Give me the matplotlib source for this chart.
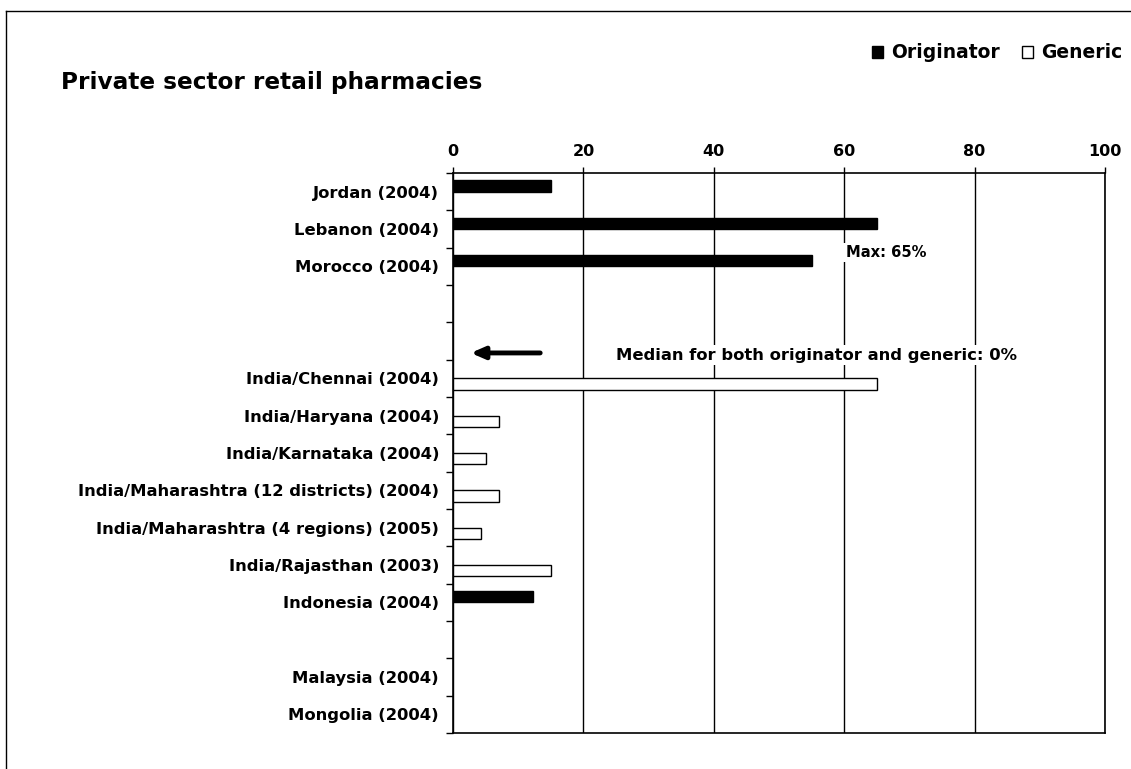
import matplotlib
matplotlib.use("Agg")
import matplotlib.pyplot as plt
from matplotlib.patches import Patch
from matplotlib.lines import Line2D
import numpy as np

labels = ['Jordan (2004)', 'Lebanon (2004)', 'Morocco (2004)', '', '',
          'India/Chennai (2004)', 'India/Haryana (2004)', 'India/Karnataka (2004)',
          'India/Maharashtra (12 districts) (2004)', 'India/Maharashtra (4 regions) (2005)',
          'India/Rajasthan (2003)', 'Indonesia (2004)', '', 'Malaysia (2004)', 'Mongolia (2004)']
originator = [15, 65, 55, np.nan, np.nan, np.nan, np.nan, np.nan, np.nan, np.nan, np.nan, 12.3, np.nan, np.nan, np.nan]
generic = [np.nan, np.nan, np.nan, np.nan, np.nan, 65, 7, 5, 7, 4.3, 15, np.nan, np.nan, np.nan, np.nan]
xticks = [0, 20, 40, 60, 80, 100]

plt.rcParams['font.family'] = 'DejaVu Sans'
plt.rcParams['font.weight'] = 'bold'

fig = plt.figure(figsize=(11.31, 7.69), dpi=100)
ax = fig.add_axes([453/1131, 1 - 733/769, (1105 - 453)/1131, (733 - 173)/769])

y = np.arange(len(labels))
h = 0.3
ax.barh(y - h/2, originator, height=h, color='black', edgecolor='black', linewidth=1, zorder=3)
ax.barh(y + h/2, generic, height=h, color='white', edgecolor='black', linewidth=1, zorder=3)

ax.set_xlim(0, 100)
ax.set_ylim(len(labels) - 0.5, -0.5)
ax.xaxis.tick_top()
ax.set_xticks(xticks)
ax.set_xticklabels([str(v) for v in xticks], fontsize=11.5, fontweight='bold')
ax.tick_params(axis='x', length=4, width=1, pad=6)
ax.set_yticks(y)
ax.set_yticklabels(labels, fontsize=11.8, fontweight='bold')
ax.tick_params(axis='y', which='major', length=0, pad=10)
ax.set_yticks(np.arange(-0.5, len(labels)), minor=True)
ax.tick_params(axis='y', which='minor', length=5, width=1, direction='out')
ax.grid(axis='x', color='black', linewidth=1, zorder=1)
for s in ax.spines.values():
    s.set_linewidth(1.2)

ax.text(60.2, 1.62, 'Max: 65%', fontsize=10.6, fontweight='bold', va='center', ha='left',
        bbox=dict(facecolor='white', edgecolor='none', pad=1.5), zorder=4)
ax.annotate('', xy=(2.3, 4.32), xytext=(13.8, 4.32),
            arrowprops=dict(arrowstyle='-|>,head_length=0.8,head_width=0.35', color='black', lw=3.5))
ax.text(25, 4.38, 'Median for both originator and generic: 0%', fontsize=11.8, fontweight='bold',
        va='center', ha='left', bbox=dict(facecolor='white', edgecolor='none', pad=2), zorder=4)

fig.text(61/1131, 1 - 82/769, 'Private sector retail pharmacies', fontsize=16.7, fontweight='bold', va='center')

handles = [Patch(facecolor='black', edgecolor='black'), Patch(facecolor='white', edgecolor='black')]
fig.legend(handles, ['Originator', 'Generic'], loc='center left', bbox_to_anchor=(855/1131, 1 - 53/769),
           ncol=2, frameon=False, handlelength=0.6, handleheight=0.6, handletextpad=0.4,
           columnspacing=1.2, prop={'weight': 'bold', 'size': 13.5})

fig.add_artist(Line2D([6/1131, 6/1131], [0, 1 - 11/769], color='black', linewidth=1))
fig.add_artist(Line2D([6/1131, 1], [1 - 11/769, 1 - 11/769], color='black', linewidth=1))

fig.savefig('out.png', dpi=100)
